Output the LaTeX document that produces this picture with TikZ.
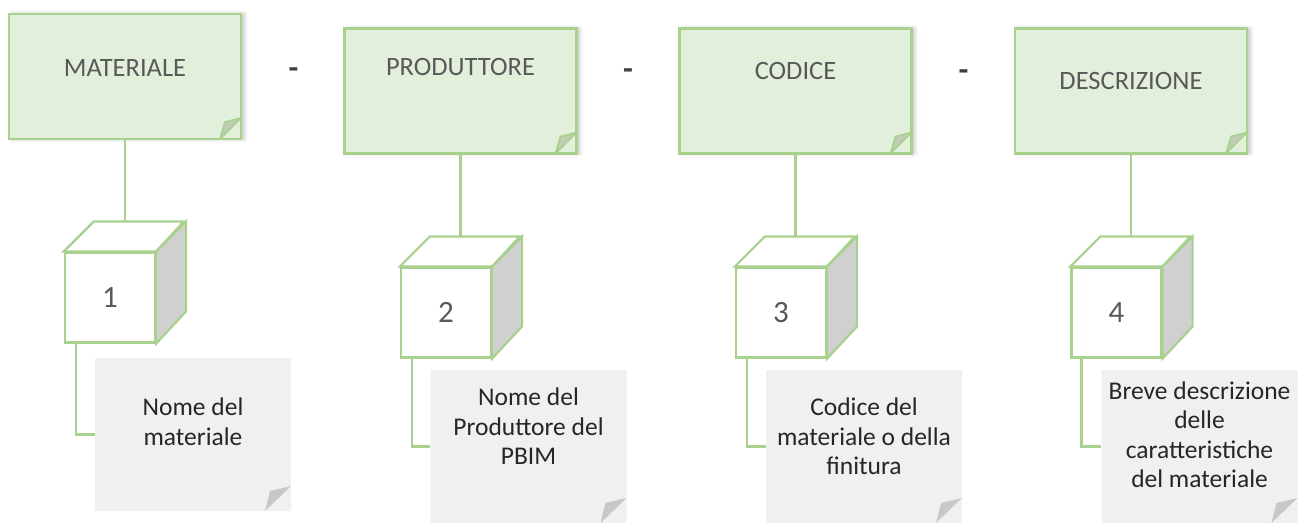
\documentclass[tikz,border=0pt]{standalone}
\usepackage{fontspec}
\setmainfont{Carlito}
\usetikzlibrary{shapes.misc,shadows.blur}
\definecolor{leaf}{HTML}{A9D18E}
\definecolor{leaffill}{HTML}{E2EFDA}
\definecolor{leafflap}{HTML}{BFCDB5}
\definecolor{paper}{HTML}{F0F0F0}
\definecolor{paperflap}{HTML}{C8C8C8}
\definecolor{ink}{HTML}{595959}
\definecolor{side}{HTML}{D0D0D0}
\tikzset{
  head/.style={chamfered rectangle,chamfered rectangle corners=south east,
    chamfered rectangle xsep=21pt,chamfered rectangle ysep=21pt,
    draw=leaf,line width=2.2pt,fill=leaffill,inner sep=0pt,
    minimum width=232pt,minimum height=125pt,
    blur shadow={shadow xshift=3pt,shadow yshift=0pt,shadow blur radius=4pt,shadow opacity=25},
    path picture={\filldraw[leafflap,draw=leaf,line width=1.6pt]
      ([shift={(0,-21)}]path picture bounding box.south east)
      -- ([shift={(-16,-17)}]path picture bounding box.south east)
      -- ([shift={(-21,0)}]path picture bounding box.south east) -- cycle;}},
  htxt/.style={font=\fontsize{26.5}{30}\selectfont,text=ink},
  sheet/.style={chamfered rectangle,chamfered rectangle corners=south east,
    chamfered rectangle xsep=26pt,chamfered rectangle ysep=25pt,
    fill=paper,inner sep=0pt,minimum width=196pt,minimum height=153pt,
    path picture={\fill[paperflap]
      ([shift={(0,-25)}]path picture bounding box.south east)
      -- ([shift={(-21,-20)}]path picture bounding box.south east)
      -- ([shift={(-26,0)}]path picture bounding box.south east) -- cycle;}},
  stxt/.style={font=\fontsize{25.5}{29.5}\selectfont,text=black!85,align=center},
  face/.style={draw=leaf,line width=2.2pt,fill=white,minimum size=90pt,inner sep=0pt,
    font=\fontsize{31}{31}\selectfont,text=ink},
  link/.style={draw=leaf,line width=2.2pt},
  sepmark/.style={font=\bfseries\fontsize{32}{32}\selectfont,text=black!75}
}

\begin{document}
\begin{tikzpicture}[x=1pt,y=-1pt]
\useasboundingbox (0,0) rectangle (1306,522);

\node[head,label={[htxt,yshift=8.5pt]center:MATERIALE}] (mat) at (125,76.5) {};
\node[head,label={[htxt,yshift=24pt]center:PRODUTTORE}] (pro) at (460.5,91) {};
\node[head,label={[htxt,yshift=20pt]center:CODICE}] (cod) at (795.5,91) {};
\node[head,label={[htxt,yshift=10pt]center:DESCRIZIONE}] (des) at (1131,91) {};

\node[sepmark] (sep1) at (293.5,73) {-};
\node[sepmark] (sep2) at (628,74) {-};
\node[sepmark] (sep3) at (963.5,75) {-};

% cubes
\node[face] (one) at (110,297.5) {1};
\node[face] (two) at (446,312.5) {2};
\node[face] (three) at (781,312.5) {3};
\node[face] (four) at (1116.5,312.5) {4};
\coordinate (topone) at ([shift={(30,-30)}]one.north west);
\coordinate (toptwo) at ([shift={(30,-30)}]two.north west);
\coordinate (topthree) at ([shift={(30,-30)}]three.north west);
\coordinate (topfour) at ([shift={(30,-30)}]four.north west);
\draw[link,fill=white] (one.north west) -- (topone) -- ++(90,0) -- (one.north east) -- cycle;
\draw[link,fill=side] (one.north east) -- ++(30,-30) -- ++(0,90) -- (one.south east) -- cycle;
\draw[link,fill=white] (two.north west) -- (toptwo) -- ++(90,0) -- (two.north east) -- cycle;
\draw[link,fill=side] (two.north east) -- ++(30,-30) -- ++(0,90) -- (two.south east) -- cycle;
\draw[link,fill=white] (three.north west) -- (topthree) -- ++(90,0) -- (three.north east) -- cycle;
\draw[link,fill=side] (three.north east) -- ++(30,-30) -- ++(0,90) -- (three.south east) -- cycle;
\draw[link,fill=white] (four.north west) -- (topfour) -- ++(90,0) -- (four.north east) -- cycle;
\draw[link,fill=side] (four.north east) -- ++(30,-30) -- ++(0,90) -- (four.south east) -- cycle;

% notes
\node[sheet,label={[stxt,yshift=13pt]center:Nome del\\materiale}] (nome) at (193,434.5) {};
\node[sheet,label={[stxt,yshift=20pt]center:Nome del\\Produttore del\\PBIM}] (prod) at (528.5,446.5) {};
\node[sheet,label={[stxt,yshift=10pt]center:Codice del\\materiale o della\\finitura}] (codi) at (864,446.5) {};
\node[sheet,label={[stxt,yshift=12pt]center:Breve descrizione\\delle\\caratteristiche\\del materiale}] (desc) at (1199.5,446.5) {};

\draw[link] (mat.south) -- (mat.south |- topone);
\draw[link] (pro.south) -- (pro.south |- toptwo);
\draw[link] (cod.south) -- (cod.south |- topthree);
\draw[link] (des.south) -- (des.south |- topfour);
\draw[link] ([xshift=12pt]one.south west) |- (nome.west);
\draw[link] ([xshift=12pt]two.south west) |- (prod.west);
\draw[link] ([xshift=12pt]three.south west) |- (codi.west);
\draw[link] ([xshift=11pt]four.south west) |- (desc.west);

\end{tikzpicture}
\end{document}
